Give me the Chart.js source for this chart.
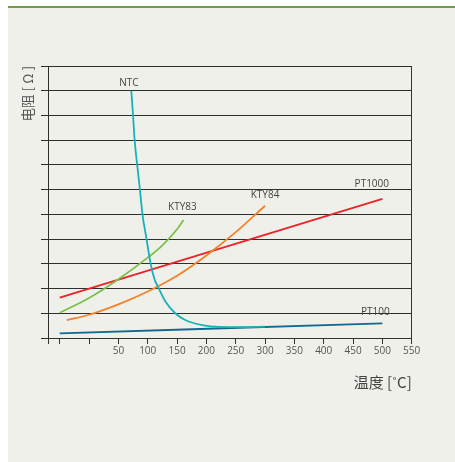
<!DOCTYPE html>
<html>
<head>
<meta charset="utf-8">
<script src="https://cdn.jsdelivr.net/npm/chart.js@4"></script>
<style>
  body { margin: 0; background: #fff; }
  #panel {
    position: absolute; left: 8px; top: 6px; width: 447px; height: 454px;
    background: #f0f0eb; border-top: 2px solid #72994c;
  }
  #myChart { position: absolute; left: 0; top: 0; }
</style>
</head>
<body>
<div id="panel"></div>
<canvas id="myChart" width="455" height="462"></canvas>
<script>
// temperature [°C] and resistance (in grid units, the chart has no y labels)
const ntcT = [72, 75, 77.7, 82, 86.7, 91, 98, 105, 112, 119, 130.4, 147, 164, 193, 221, 260, 300];
const ntcR = [10, 9, 8, 7, 6, 5, 4, 3, 2.35, 2.0, 1.47, 1.0, 0.73, 0.52, 0.45, 0.44, 0.46];

const kty83T = [-50, 0, 50, 100, 125, 150, 161];
const kty83R = [1.02, 1.62, 2.38, 3.25, 3.75, 4.4, 4.77];

const kty84T = [-38, 0, 50, 100, 150, 200, 250, 300];
const kty84R = [0.72, 0.94, 1.36, 1.88, 2.52, 3.34, 4.28, 5.35];

const pt1000T = [-50, 500];
const pt1000R = [1.63, 5.63];

const pt100T = [-50, 500];
const pt100R = [0.19, 0.59];

const xTicks = [-70, -50, 0, 50, 100, 150, 200, 250, 300, 350, 400, 450, 500, 550];

const seriesNames = ["NTC", "KTY83", "KTY84", "PT1000", "PT100"];
const seriesColors = ["#19b1b9", "#7cc04b", "#f5822a", "#ec2227", "#14688f"];

// where the curve names sit, in data units
const labelT = [68, 159, 300, 482, 488];
const labelR = [10.32, 5.28, 5.78, 6.23, 1.06];

function toPoints(xs, ys) {
  return xs.map((x, i) => ({x: x, y: ys[i]}));
}

const allT = [ntcT, kty83T, kty84T, pt1000T, pt100T];
const allR = [ntcR, kty83R, kty84R, pt1000R, pt100R];

const datasets = seriesNames.map((name, i) => ({
  label: name,
  data: toPoints(allT[i], allR[i]),
  borderColor: seriesColors[i],
  borderWidth: 1.8,
  pointRadius: 0,
  fill: false,
  cubicInterpolationMode: 'monotone'
}));

const curveLabels = {
  id: 'curveLabels',
  afterDatasetsDraw(chart) {
    const ctx = chart.ctx;
    const xs = chart.scales.x, ys = chart.scales.y;
    ctx.save();
    ctx.font = '10px "Open Sans"';
    ctx.fillStyle = '#444';
    ctx.textAlign = 'center';
    ctx.textBaseline = 'middle';
    seriesNames.forEach((name, i) => {
      ctx.fillText(name, xs.getPixelForValue(labelT[i]), ys.getPixelForValue(labelR[i]));
    });
    ctx.restore();
  }
};

new Chart("myChart", {
  type: "line",
  data: { datasets: datasets },
  plugins: [curveLabels],
  options: {
    responsive: false,
    animation: false,
    layout: { padding: { left: 8, top: 66, right: 43.3, bottom: 64 } },
    plugins: {
      legend: { display: false },
      tooltip: { enabled: false }
    },
    scales: {
      x: {
        type: 'linear',
        min: -70,
        max: 550,
        afterBuildTicks: axis => { axis.ticks = xTicks.map(v => ({value: v})); },
        afterFit: s => { s.height = 60; },
        ticks: {
          autoSkip: false,
          maxRotation: 0,
          padding: 1,
          color: '#555',
          font: { family: 'Open Sans', size: 10 },
          callback: v => (v > 0 ? String(v) : '')
        },
        grid: {
          color: c => (c.tick && c.tick.value === 550 ? '#333' : 'rgba(0,0,0,0)'),
          tickColor: '#333',
          tickLength: 6,
          lineWidth: 1
        },
        border: { color: '#333' },
        title: {
          display: true,
          text: '温度 [˚C]',
          align: 'end',
          color: '#444',
          font: { family: 'Noto Sans CJK SC', size: 15 },
          padding: { top: 0, bottom: 7 }
        }
      },
      y: {
        min: 0,
        max: 11,
        afterFit: s => { s.width = 40; },
        ticks: { stepSize: 1, display: false },
        grid: { color: '#2e2e2e', tickLength: 7, lineWidth: 1 },
        border: { color: '#2e2e2e' },
        title: {
          display: true,
          text: '电阻 [ Ω ]',
          align: 'end',
          color: '#555',
          font: { family: 'Noto Sans CJK SC', size: 13.5 },
          padding: { top: 12, bottom: 0 }
        }
      }
    }
  }
});
</script>
</body>
</html>
